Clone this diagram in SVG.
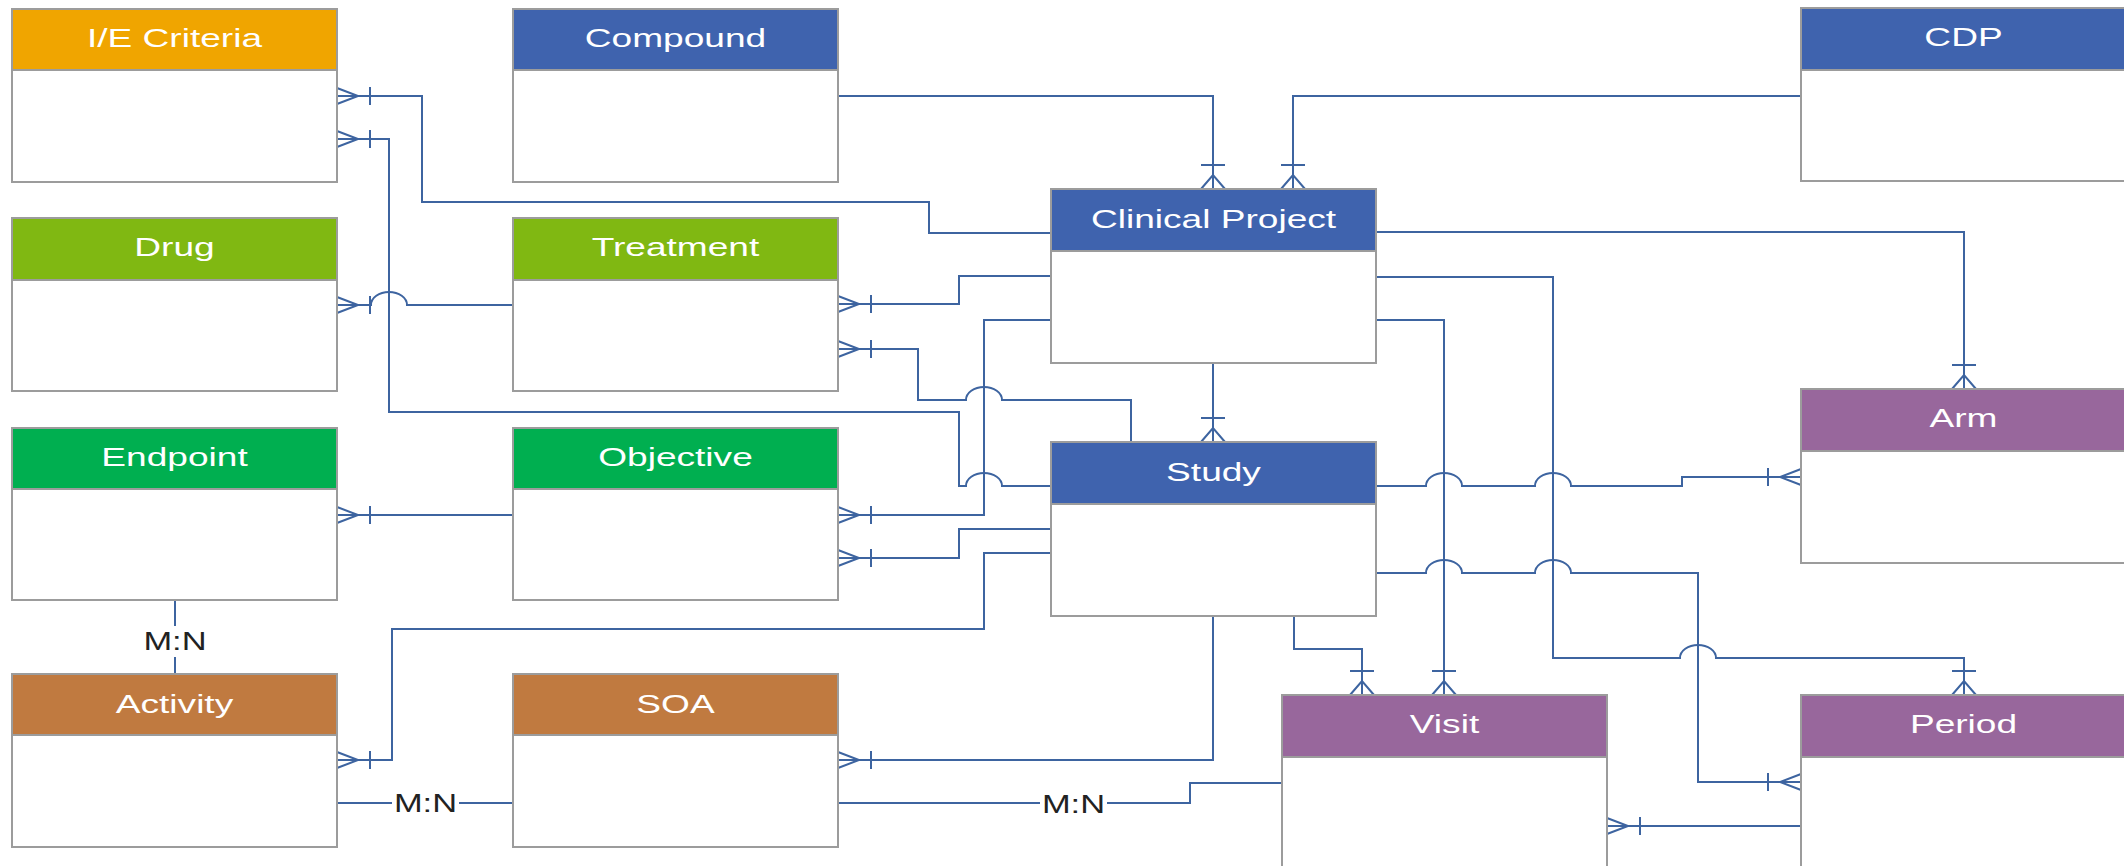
<svg xmlns="http://www.w3.org/2000/svg" xmlns:xlink="http://www.w3.org/1999/xlink" width="2124" height="866" viewBox="0 0 2124 866">
<style>
  .body{fill:#ffffff;stroke:#9c9c9c;stroke-width:2}
  .hdr{stroke:#9c9c9c;stroke-width:2}
  .orange{fill:#F0A500}
  .blue{fill:#3F63AE}
  .lime{fill:#80B812}
  .green{fill:#00AF50}
  .brown{fill:#C07A40}
  .purple{fill:#98679C}
  .title{font-family:"Liberation Sans",Arial,sans-serif;font-size:26.5px;fill:#ffffff;text-anchor:middle}
  .lbl{font-family:"Liberation Sans",Arial,sans-serif;font-size:26.5px;fill:#222222;text-anchor:middle}
  .conn path,.conn use{fill:none;stroke:#3D64A0;stroke-width:2}
</style>
<defs>
  <path id="crow-h" d="M0,-8 L21,0 L0,8 M33,-9 V9"/>
  <path id="crow-v" d="M-12,0 L0,-14 L12,0 M-12,-24 H12"/>
</defs>
<rect width="2124" height="866" fill="#ffffff"/>

<g id="connectors" class="conn">
  <path d="M337,96 H422 V202 H929 V233 H1051"/>
  <path d="M337,139 H389 V412 H959 V486 H966 A18,13 0 0 1 1002,486 H1051"/>
  <path d="M337,305 H371 A18,13 0 0 1 407,305 H513"/>
  <path d="M838,304 H959 V276 H1051"/>
  <path d="M838,349 H918 V400 H966 A18,13 0 0 1 1002,400 H1131 V442"/>
  <path d="M1051,320 H984 V515 H838"/>
  <path d="M838,558 H959 V529 H1051"/>
  <path d="M337,760 H392 V629 H984 V553 H1051"/>
  <path d="M838,760 H1213 V616"/>
  <path d="M337,515 H513"/>
  <path d="M175,600 V626 M175,657 V674"/>
  <path d="M337,803 H392 M459,803 H513"/>
  <path d="M838,803 H1040 M1107,803 H1190 V783 H1282"/>
  <path d="M838,96 H1213 V189"/>
  <path d="M1801,96 H1293 V189"/>
  <path d="M1213,363 V442"/>
  <path d="M1376,232 H1964 V389"/>
  <path d="M1376,277 H1553 V658 H1680 A18,13 0 0 1 1716,658 H1964 V695"/>
  <path d="M1376,320 H1444 V695"/>
  <path d="M1376,486 H1426 A18,13 0 0 1 1462,486 H1535 A18,13 0 0 1 1571,486 H1682 V477 H1801"/>
  <path d="M1376,573 H1426 A18,13 0 0 1 1462,573 H1535 A18,13 0 0 1 1571,573 H1698 V782 H1801"/>
  <path d="M1294,616 V649 H1362 V695"/>
  <path d="M1801,826 H1607"/>
  <use xlink:href="#crow-h" href="#crow-h" transform="translate(337,96)"/>
  <use xlink:href="#crow-h" href="#crow-h" transform="translate(337,139)"/>
  <use xlink:href="#crow-h" href="#crow-h" transform="translate(337,305)"/>
  <use xlink:href="#crow-h" href="#crow-h" transform="translate(838,304)"/>
  <use xlink:href="#crow-h" href="#crow-h" transform="translate(838,349)"/>
  <use xlink:href="#crow-h" href="#crow-h" transform="translate(838,515)"/>
  <use xlink:href="#crow-h" href="#crow-h" transform="translate(838,558)"/>
  <use xlink:href="#crow-h" href="#crow-h" transform="translate(337,515)"/>
  <use xlink:href="#crow-h" href="#crow-h" transform="translate(337,760)"/>
  <use xlink:href="#crow-h" href="#crow-h" transform="translate(838,760)"/>
  <use xlink:href="#crow-h" href="#crow-h" transform="translate(1607,826)"/>
  <use xlink:href="#crow-h" href="#crow-h" transform="translate(1801,477) scale(-1,1)"/>
  <use xlink:href="#crow-h" href="#crow-h" transform="translate(1801,782) scale(-1,1)"/>
  <use xlink:href="#crow-v" href="#crow-v" transform="translate(1213,189)"/>
  <use xlink:href="#crow-v" href="#crow-v" transform="translate(1293,189)"/>
  <use xlink:href="#crow-v" href="#crow-v" transform="translate(1213,442)"/>
  <use xlink:href="#crow-v" href="#crow-v" transform="translate(1964,389)"/>
  <use xlink:href="#crow-v" href="#crow-v" transform="translate(1964,695)"/>
  <use xlink:href="#crow-v" href="#crow-v" transform="translate(1444,695)"/>
  <use xlink:href="#crow-v" href="#crow-v" transform="translate(1362,695)"/>
  <text class="lbl" transform="translate(175,650) scale(1.3,1)">M:N</text>
  <text class="lbl" transform="translate(425.5,812) scale(1.3,1)">M:N</text>
  <text class="lbl" transform="translate(1073.5,812.5) scale(1.3,1)">M:N</text>
</g>

<g id="ie-criteria">
  <rect class="body" x="12" y="9" width="325" height="173"/>
  <rect class="hdr orange" x="12" y="9" width="325" height="61"/>
  <text class="title" transform="translate(174.5,47) scale(1.4,1)">I/E Criteria</text>
</g>
<g id="compound">
  <rect class="body" x="513" y="9" width="325" height="173"/>
  <rect class="hdr blue" x="513" y="9" width="325" height="61"/>
  <text class="title" transform="translate(675.5,47) scale(1.4,1)">Compound</text>
</g>
<g id="cdp">
  <rect class="body" x="1801" y="8" width="325" height="173"/>
  <rect class="hdr blue" x="1801" y="8" width="325" height="62"/>
  <text class="title" transform="translate(1963.5,46) scale(1.4,1)">CDP</text>
</g>
<g id="drug">
  <rect class="body" x="12" y="218" width="325" height="173"/>
  <rect class="hdr lime" x="12" y="218" width="325" height="62"/>
  <text class="title" transform="translate(174.5,256) scale(1.4,1)">Drug</text>
</g>
<g id="treatment">
  <rect class="body" x="513" y="218" width="325" height="173"/>
  <rect class="hdr lime" x="513" y="218" width="325" height="62"/>
  <text class="title" transform="translate(675.5,256) scale(1.4,1)">Treatment</text>
</g>
<g id="clinical-project">
  <rect class="body" x="1051" y="189" width="325" height="174"/>
  <rect class="hdr blue" x="1051" y="189" width="325" height="62"/>
  <text class="title" transform="translate(1213.5,228) scale(1.4,1)">Clinical Project</text>
</g>
<g id="endpoint">
  <rect class="body" x="12" y="428" width="325" height="172"/>
  <rect class="hdr green" x="12" y="428" width="325" height="61"/>
  <text class="title" transform="translate(174.5,466) scale(1.4,1)">Endpoint</text>
</g>
<g id="objective">
  <rect class="body" x="513" y="428" width="325" height="172"/>
  <rect class="hdr green" x="513" y="428" width="325" height="61"/>
  <text class="title" transform="translate(675.5,466) scale(1.4,1)">Objective</text>
</g>
<g id="arm">
  <rect class="body" x="1801" y="389" width="325" height="174"/>
  <rect class="hdr purple" x="1801" y="389" width="325" height="62"/>
  <text class="title" transform="translate(1963.5,427) scale(1.4,1)">Arm</text>
</g>
<g id="study">
  <rect class="body" x="1051" y="442" width="325" height="174"/>
  <rect class="hdr blue" x="1051" y="442" width="325" height="62"/>
  <text class="title" transform="translate(1213.5,481) scale(1.4,1)">Study</text>
</g>
<g id="activity">
  <rect class="body" x="12" y="674" width="325" height="173"/>
  <rect class="hdr brown" x="12" y="674" width="325" height="61"/>
  <text class="title" transform="translate(174.5,713) scale(1.4,1)">Activity</text>
</g>
<g id="soa">
  <rect class="body" x="513" y="674" width="325" height="173"/>
  <rect class="hdr brown" x="513" y="674" width="325" height="61"/>
  <text class="title" transform="translate(675.5,713) scale(1.4,1)">SOA</text>
</g>
<g id="visit">
  <rect class="body" x="1282" y="695" width="325" height="174"/>
  <rect class="hdr purple" x="1282" y="695" width="325" height="62"/>
  <text class="title" transform="translate(1444.5,733) scale(1.4,1)">Visit</text>
</g>
<g id="period">
  <rect class="body" x="1801" y="695" width="325" height="174"/>
  <rect class="hdr purple" x="1801" y="695" width="325" height="62"/>
  <text class="title" transform="translate(1963.5,733) scale(1.4,1)">Period</text>
</g>
</svg>
